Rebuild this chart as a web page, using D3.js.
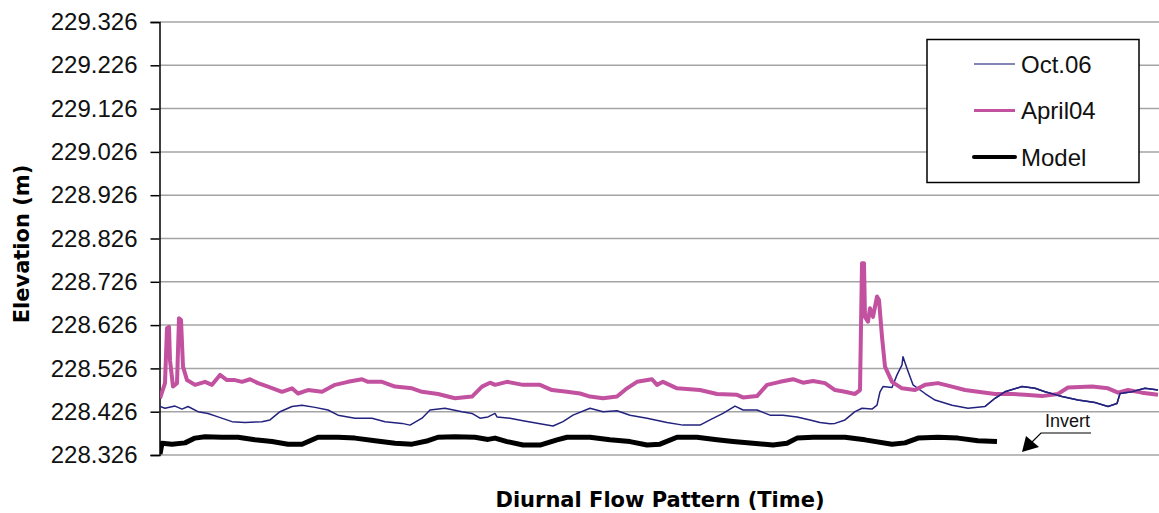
<!DOCTYPE html>
<html>
<head>
<meta charset="utf-8">
<script src="https://cdn.jsdelivr.net/npm/d3@7"></script>
<style>
  html, body { margin: 0; padding: 0; background: #fff; }
  svg { display: block; }
</style>
</head>
<body>
<div id="chart"></div>
<script>
// Y axis tick labels (elevation, m)
const yTicks = ["228.326", "228.426", "228.526", "228.626", "228.726", "228.826",
                "228.926", "229.026", "229.126", "229.226", "229.326"];

const seriesNames = ["Oct.06", "April04", "Model"];

// Oct.06 measured levels (time index, elevation)
const octTime = [0, 5, 15, 22, 28, 38, 48, 58, 72, 85, 102, 110, 120, 132, 142, 155, 168, 178, 195, 212,
  225, 242, 250, 262, 270, 285, 302, 312, 320, 328, 335, 337, 350, 363, 380, 393, 403, 413, 430, 443,
  457, 470, 487, 507, 523, 540, 550, 563, 575, 583, 597, 610, 623, 637, 650, 660, 670, 675, 685, 695,
  702, 712, 717, 720, 723, 732, 737, 742, 743, 747, 753, 765, 775, 792, 808, 825, 835, 845, 862, 875,
  885, 902, 918, 935, 948, 957, 960, 972, 985, 998];
const octElev = [228.438, 228.434, 228.439, 228.432, 228.438, 228.426, 228.422, 228.414, 228.403, 228.401,
  228.403, 228.407, 228.426, 228.438, 228.441, 228.436, 228.430, 228.418, 228.411, 228.411,
  228.403, 228.399, 228.395, 228.411, 228.430, 228.434, 228.426, 228.422, 228.411, 228.414,
  228.422, 228.414, 228.411, 228.405, 228.398, 228.393, 228.403, 228.418, 228.434, 228.426,
  228.428, 228.418, 228.411, 228.401, 228.395, 228.395, 228.407, 228.422, 228.439, 228.430,
  228.430, 228.418, 228.418, 228.414, 228.407, 228.401, 228.398, 228.399, 228.407, 228.426,
  228.434, 228.432, 228.441, 228.472, 228.484, 228.482, 228.511, 228.534, 228.553, 228.526,
  228.488, 228.468, 228.453, 228.441, 228.434, 228.438, 228.457, 228.472, 228.484, 228.480,
  228.472, 228.461, 228.453, 228.447, 228.438, 228.445, 228.468, 228.472, 228.480, 228.476];

// April04 measured levels
const aprTime = [0, 5, 7, 9, 10, 13, 17, 19, 21, 23, 27, 35, 45, 52, 60, 67, 75, 82, 90, 98,
  108, 122, 132, 138, 148, 162, 175, 188, 202, 208, 222, 235, 252, 262, 278, 295, 312, 322, 330, 335,
  347, 363, 380, 392, 407, 420, 430, 443, 457, 467, 477, 492, 497, 503, 517, 530, 540, 557, 577, 583,
  597, 607, 620, 633, 643, 653, 665, 675, 685, 695, 700, 702, 704, 705, 708, 710, 713, 717, 719, 722,
  725, 732, 742, 755, 765, 778, 792, 805, 818, 835, 852, 865, 882, 898, 908, 932, 948, 958, 968, 982, 998];
const aprElev = [228.457, 228.492, 228.619, 228.622, 228.545, 228.484, 228.492, 228.642, 228.638, 228.530,
  228.499, 228.488, 228.495, 228.488, 228.511, 228.499, 228.499, 228.495, 228.501, 228.492,
  228.484, 228.472, 228.480, 228.468, 228.476, 228.472, 228.488, 228.495, 228.501, 228.495,
  228.495, 228.484, 228.480, 228.472, 228.467, 228.457, 228.461, 228.484, 228.493, 228.488,
  228.495, 228.488, 228.488, 228.476, 228.472, 228.468, 228.461, 228.457, 228.461, 228.480,
  228.495, 228.501, 228.488, 228.495, 228.480, 228.478, 228.476, 228.467, 228.465, 228.459,
  228.462, 228.488, 228.495, 228.501, 228.493, 228.497, 228.492, 228.476, 228.472, 228.467,
  228.476, 228.769, 228.769, 228.645, 228.634, 228.665, 228.645, 228.692, 228.684, 228.599,
  228.530, 228.495, 228.480, 228.476, 228.488, 228.492, 228.484, 228.476, 228.472, 228.467,
  228.467, 228.465, 228.462, 228.467, 228.482, 228.484, 228.480, 228.470, 228.476, 228.470, 228.465];

// Model levels
const modelTime = [0, 2, 12, 25, 35, 45, 62, 78, 95, 112, 128, 142, 158, 178, 195, 215, 235, 252, 268, 278,
  295, 315, 328, 335, 347, 363, 380, 397, 407, 430, 450, 470, 487, 500, 517, 537, 557, 573, 593, 613,
  627, 637, 653, 670, 685, 705, 732, 745, 758, 778, 798, 818, 837];
const modelElev = [228.328, 228.353, 228.351, 228.354, 228.365, 228.368, 228.367, 228.367, 228.361, 228.357,
  228.351, 228.351, 228.367, 228.367, 228.365, 228.359, 228.353, 228.351, 228.359, 228.367,
  228.368, 228.367, 228.362, 228.365, 228.357, 228.349, 228.349, 228.361, 228.367, 228.367,
  228.361, 228.357, 228.349, 228.351, 228.367, 228.367, 228.361, 228.357, 228.353, 228.349,
  228.353, 228.365, 228.367, 228.367, 228.367, 228.361, 228.351, 228.354, 228.365, 228.367,
  228.365, 228.359, 228.357];

const colors = { "Oct.06": "#23237f", "April04": "#c2519f", "Model": "#000000" };
const widths = { "Oct.06": 1.5, "April04": 4, "Model": 5 };

const W = 1159, H = 513;
const plot = { left: 160, right: 1160, top: 22, bottom: 455 };

const svg = d3.select("#chart").append("svg")
    .attr("width", W)
    .attr("height", H);

const x = d3.scaleLinear().domain([0, 1000]).range([plot.left, plot.right]);
const y = d3.scaleLinear()
    .domain([+yTicks[0], +yTicks[yTicks.length - 1]])
    .range([plot.bottom, plot.top]);

// clip so the lines stay in the plot
svg.append("clipPath").attr("id", "clip")
  .append("rect")
    .attr("x", plot.left)
    .attr("y", plot.top - 5)
    .attr("width", plot.right - plot.left)
    .attr("height", plot.bottom - plot.top + 5);

// gridlines
svg.append("g")
  .selectAll("line")
  .data(yTicks)
  .join("line")
    .attr("x1", plot.left)
    .attr("x2", W)
    .attr("y1", d => y(+d))
    .attr("y2", d => y(+d))
    .attr("stroke", "#a4a4a4")
    .attr("stroke-width", 1.5);

// y axis
const yAxis = svg.append("g")
    .attr("transform", `translate(${plot.left - 0.5},0)`)
    .call(d3.axisLeft(y)
      .tickValues(yTicks.map(Number))
      .tickFormat(d3.format(".3f"))
      .tickSize(9)
      .tickPadding(13));
yAxis.select(".domain").attr("stroke", "#000").attr("stroke-width", 1.5);
yAxis.selectAll(".tick line").attr("stroke", "#000").attr("stroke-width", 1.5);
yAxis.selectAll(".tick text")
    .attr("fill", "#111")
    .style("font-family", "'Liberation Sans', Arial, sans-serif")
    .style("font-size", "24px");

// lines
const line = d3.line()
    .x(d => x(d[0]))
    .y(d => y(d[1]));

const seriesData = {
  "Oct.06": d3.zip(octTime, octElev),
  "April04": d3.zip(aprTime, aprElev),
  "Model": d3.zip(modelTime, modelElev)
};

const lines = svg.append("g").attr("clip-path", "url(#clip)");
["Model", "Oct.06", "April04"].forEach(name => {
  lines.append("path")
      .datum(seriesData[name])
      .attr("fill", "none")
      .attr("stroke", colors[name])
      .attr("stroke-width", widths[name])
      .attr("stroke-linejoin", "round")
      .attr("d", line);
});
// Oct.06 is drawn over April04 where they cross at the right end
lines.append("path")
    .datum(seriesData["Oct.06"].filter(d => d[0] >= 820))
    .attr("fill", "none")
    .attr("stroke", colors["Oct.06"])
    .attr("stroke-width", widths["Oct.06"])
    .attr("d", line);

// axis titles
svg.append("text")
    .attr("x", 660)
    .attr("y", 507)
    .attr("text-anchor", "middle")
    .style("font-family", "'DejaVu Sans', Verdana, sans-serif")
    .style("font-weight", "bold")
    .style("font-size", "21px")
    .text("Diurnal Flow Pattern (Time)");

svg.append("text")
    .attr("transform", "translate(29,244) rotate(-90)")
    .attr("text-anchor", "middle")
    .style("font-family", "'DejaVu Sans', Verdana, sans-serif")
    .style("font-weight", "bold")
    .style("font-size", "21px")
    .text("Elevation (m)");

// legend
const legend = svg.append("g");
legend.append("rect")
    .attr("x", 927)
    .attr("y", 39.5)
    .attr("width", 212)
    .attr("height", 143)
    .attr("fill", "#fff")
    .attr("stroke", "#000")
    .attr("stroke-width", 1.5);

seriesNames.forEach((name, i) => {
  const cy = 64 + i * 46.5;
  legend.append("line")
      .attr("x1", 974)
      .attr("x2", 1015)
      .attr("y1", cy)
      .attr("y2", cy)
      .attr("stroke", name === "Oct.06" ? "#5c5c9c" : colors[name])
      .attr("stroke-width", name === "Model" ? 4 : (name === "April04" ? 3 : 1.5))
      .attr("stroke-linecap", name === "Model" ? "round" : "butt");
  legend.append("text")
      .attr("x", 1021)
      .attr("y", cy + 8.5)
      .attr("fill", "#111")
      .style("font-family", "'Liberation Sans', Arial, sans-serif")
      .style("font-size", "24px")
      .text(name);
});

// "Invert" annotation with arrow
const note = svg.append("g");
note.append("text")
    .attr("x", 1045)
    .attr("y", 427)
    .style("font-family", "'Liberation Sans', Arial, sans-serif")
    .style("font-size", "18px")
    .attr("fill", "#111")
    .text("Invert");
note.append("path")
    .attr("d", "M1091,433 L1041,433 L1030,444")
    .attr("fill", "none")
    .attr("stroke", "#000")
    .attr("stroke-width", 1.2);
note.append("path")
    .attr("d", "M1022,452 L1026,436 L1039,447 Z")
    .attr("fill", "#000");
</script>
</body>
</html>
